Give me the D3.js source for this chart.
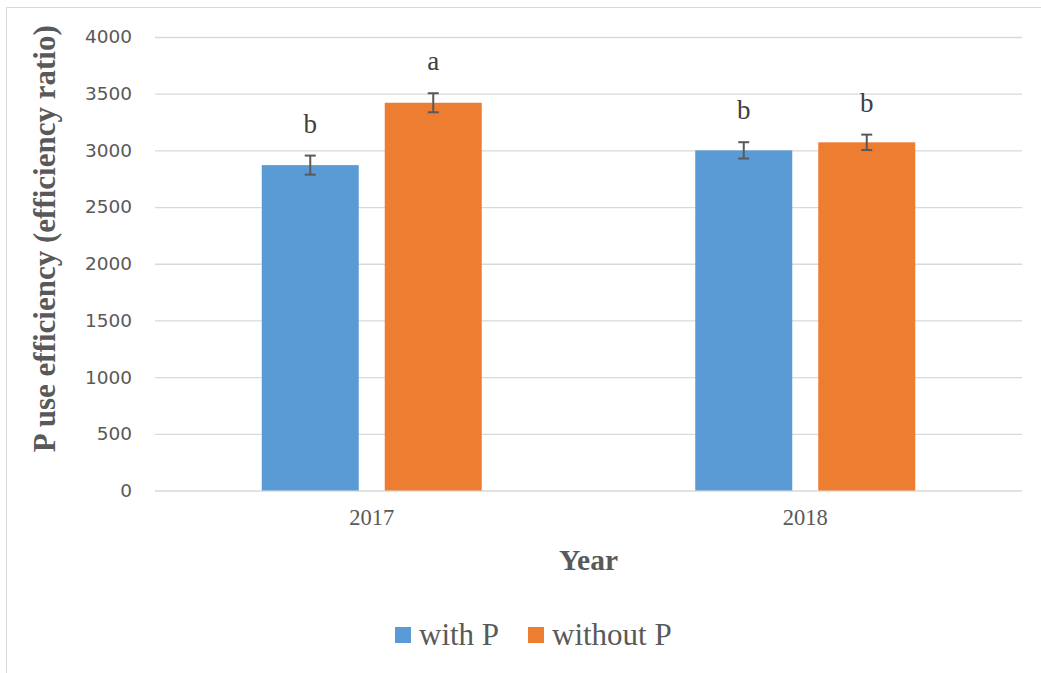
<!DOCTYPE html>
<html>
<head>
<meta charset="utf-8">
<script src="https://cdn.jsdelivr.net/npm/d3@7"></script>
<style>
  body { margin: 0; background: #fff; }
  .serif { font-family: "Liberation Serif", "Times New Roman", serif; }
</style>
</head>
<body>
<div id="chart"></div>
<script>
// chart data
var years = ["2017", "2018"];
var series = ["with P", "without P"];
var withP = [2870, 3000];
var withoutP = [3420, 3071];
var errWithP = [84, 72];
var errWithoutP = [84, 68];
var lettersWithP = ["b", "b"];
var lettersWithoutP = ["a", "b"];
var yTicks = [0, 500, 1000, 1500, 2000, 2500, 3000, 3500, 4000];
var colors = ["#5B9BD5", "#ED7D31"];

var W = 1041, H = 673;
var margin = {top: 37, right: 19, bottom: 182.5, left: 155},
    width = W - margin.left - margin.right,
    height = H - margin.top - margin.bottom;

var root = d3.select("#chart")
  .append("svg")
    .attr("width", W)
    .attr("height", H);

// outer frame
root.append("rect")
  .attr("x", 6.5).attr("y", 7.5)
  .attr("width", W + 50).attr("height", H + 50)
  .attr("fill", "none")
  .attr("stroke", "#d9d9d9")
  .attr("stroke-width", 1);

var svg = root.append("g")
  .attr("transform", "translate(" + margin.left + "," + margin.top + ")");

var y = d3.scaleLinear().domain([0, 4000]).range([height, 0]);

var x0 = d3.scaleBand().domain(years).range([0, width]).padding(0);
var groupW = 220;
var x1 = d3.scaleBand().domain(series).range([0, groupW]).paddingInner(26 / 123).paddingOuter(0);

// grid lines
svg.append("g")
  .attr("class", "grid")
  .call(d3.axisLeft(y).tickValues(yTicks).tickSize(-width).tickFormat(""))
  .call(function(g) { g.select(".domain").remove(); });
svg.selectAll(".grid line")
  .style("stroke", "#d9d9d9")
  .style("stroke-width", 1.3);

// y axis labels
var yAxis = svg.append("g")
  .call(d3.axisLeft(y).tickValues(yTicks).tickFormat(d3.format("d")).tickSize(0).tickPadding(23));
yAxis.select(".domain").remove();
yAxis.selectAll("text")
  .attr("font-family", "DejaVu Sans")
  .attr("font-size", 18.5)
  .attr("fill", "#595959");

// x axis labels
var xAxis = svg.append("g")
  .attr("transform", "translate(0," + height + ")")
  .call(d3.axisBottom(x0).tickSize(0).tickPadding(19));
xAxis.select(".domain").remove();
xAxis.attr("font-family", null);
xAxis.selectAll("text")
  .attr("class", "serif")
  .attr("font-size", 22.5)
  .attr("fill", "#595959");

// build rows
var rows = [];
years.forEach(function(yr, i) {
  rows.push({year: yr, s: series[0], v: withP[i], e: errWithP[i], l: lettersWithP[i], c: colors[0]});
  rows.push({year: yr, s: series[1], v: withoutP[i], e: errWithoutP[i], l: lettersWithoutP[i], c: colors[1]});
});

function bx(d) { return x0(d.year) + (x0.bandwidth() - groupW) / 2 + x1(d.s); }
function cx(d) { return bx(d) + x1.bandwidth() / 2; }

// bars
svg.append("g")
  .selectAll("rect")
  .data(rows)
  .enter()
  .append("rect")
    .attr("x", bx)
    .attr("y", function(d) { return y(d.v); })
    .attr("width", x1.bandwidth())
    .attr("height", function(d) { return height - y(d.v); })
    .attr("fill", function(d) { return d.c; });

// error bars
var eb = svg.append("g")
  .selectAll("g")
  .data(rows)
  .enter()
  .append("g")
    .attr("stroke", "#595959")
    .attr("stroke-width", 2);
eb.append("line")
  .attr("x1", cx)
  .attr("x2", cx)
  .attr("y1", function(d) { return y(d.v + d.e); })
  .attr("y2", function(d) { return y(d.v - d.e); });
eb.append("line")
  .attr("x1", function(d) { return cx(d) - 5.5; })
  .attr("x2", function(d) { return cx(d) + 5.5; })
  .attr("y1", function(d) { return y(d.v + d.e); })
  .attr("y2", function(d) { return y(d.v + d.e); });
eb.append("line")
  .attr("x1", function(d) { return cx(d) - 5.5; })
  .attr("x2", function(d) { return cx(d) + 5.5; })
  .attr("y1", function(d) { return y(d.v - d.e); })
  .attr("y2", function(d) { return y(d.v - d.e); });

// significance letters
svg.append("g")
  .selectAll("text")
  .data(rows)
  .enter()
  .append("text")
    .attr("class", "serif")
    .attr("x", cx)
    .attr("y", function(d) { return y(d.v + d.e) - 23; })
    .attr("text-anchor", "middle")
    .attr("font-size", 27)
    .attr("fill", "#404040")
    .text(function(d) { return d.l; });

// axis titles
svg.append("text")
  .attr("class", "serif")
  .attr("x", width / 2)
  .attr("y", height + 79)
  .attr("text-anchor", "middle")
  .attr("font-size", 29.5)
  .attr("font-weight", "bold")
  .attr("fill", "#595959")
  .text("Year");

svg.append("text")
  .attr("class", "serif")
  .attr("transform", "translate(" + (-100) + "," + (height / 2 - 25) + ")rotate(-90)")
  .attr("text-anchor", "middle")
  .attr("font-size", 31)
  .attr("font-weight", "bold")
  .attr("fill", "#595959")
  .text("P use efficiency (efficiency ratio)");

// legend
var legend = root.append("g").attr("transform", "translate(395,627)");
var legX = [0, 133];
var li = legend.selectAll("g")
  .data(series)
  .enter()
  .append("g")
    .attr("transform", function(d, i) { return "translate(" + legX[i] + ",0)"; });
li.append("rect")
  .attr("width", 16).attr("height", 16)
  .attr("fill", function(d, i) { return colors[i]; });
li.append("text")
  .attr("class", "serif")
  .attr("x", 24)
  .attr("y", 18)
  .attr("font-size", 31)
  .attr("fill", "#595959")
  .text(function(d) { return d; });
</script>
</body>
</html>
